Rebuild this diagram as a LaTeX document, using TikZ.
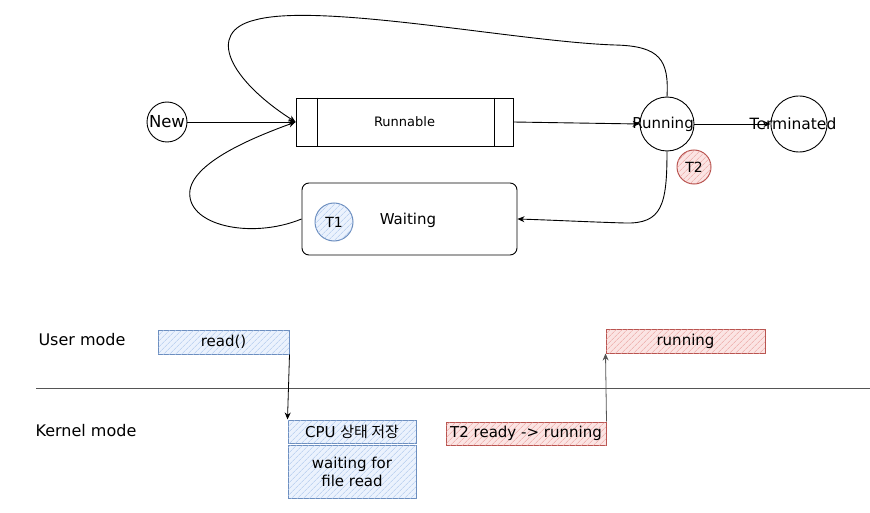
\documentclass[tikz,border=0pt]{standalone}
\usepackage{fontspec}
\setmainfont{DejaVu Sans}
\newfontfamily\krfont{Noto Sans CJK KR}
\usetikzlibrary{arrows.meta,patterns.meta}
\definecolor{bluestroke}{HTML}{6C8EBF}
\definecolor{bluefill}{HTML}{DAE8FC}
\definecolor{bluehatch}{HTML}{A9C4EB}
\definecolor{redstroke}{HTML}{B85450}
\definecolor{redfill}{HTML}{F8CECC}
\definecolor{redhatch}{HTML}{EA9E9B}
\definecolor{sepgray}{HTML}{555555}
\tikzset{
  txt/.style={font=\fontsize{15}{18}\selectfont},
  lbl/.style={font=\fontsize{16}{19}\selectfont},
  stcircle/.style={draw=black, line width=0.9pt, circle, inner sep=0pt},
  stbox/.style={draw=black, line width=0.9pt, inner sep=0pt},
  arr/.style={-{Stealth[length=7pt,width=6pt]}, line width=0.9pt, black},
  bluebox/.style={draw=bluestroke, line width=1pt, fill=bluefill!55,
     postaction={pattern={Lines[angle=45,distance=4pt,line width=0.5pt]}, pattern color=bluehatch},
     inner sep=0pt, txt},
  redbox/.style={draw=redstroke, line width=1pt, fill=redfill!55,
     postaction={pattern={Lines[angle=45,distance=4pt,line width=0.5pt]}, pattern color=redhatch},
     inner sep=0pt, txt},
}
\begin{document}
\begin{tikzpicture}[x=1pt,y=-1pt]
\useasboundingbox (0,0) rectangle (870,513);
% upper state diagram
\node[stcircle, minimum size=40pt] (new) at (167,122) {};
\node[font=\fontsize{16.5}{19}\selectfont] (newt) at (new) {New};
\node[stbox, minimum width=217pt, minimum height=48pt] (runnable) at (404.5,122) {};
\node[font=\fontsize{13}{15}\selectfont] (runnablet) at (runnable) {Runnable};
\draw[line width=0.8pt] ([xshift=22pt]runnable.north west) -- ([xshift=22pt]runnable.south west);
\draw[line width=0.8pt] ([xshift=-19pt]runnable.north east) -- ([xshift=-19pt]runnable.south east);
\node[stcircle, minimum size=54pt] (running) at (667,124) {};
\node[txt] (runningt) at (663,124) {Running};
\node[stcircle, minimum size=56pt] (term) at (799,124) {};
\node[font=\fontsize{15.5}{18}\selectfont] (termt) at (793,124) {Terminated};
\node[draw=black, line width=0.9pt, rounded corners=7pt, minimum width=215pt, minimum height=72pt] (waiting) at (409.5,219) {};
\node[txt] (waitingt) at (408,220) {Waiting};
\node[circle, draw=redstroke, line width=1pt, fill=redfill!55,
  postaction={pattern={Lines[angle=45,distance=4pt,line width=0.5pt]}, pattern color=redhatch},
  minimum size=34pt, inner sep=0pt, font=\fontsize{14}{16}\selectfont] (t2) at (694,167) {T2};
\node[circle, draw=bluestroke, line width=1pt, fill=bluefill!55,
  postaction={pattern={Lines[angle=45,distance=4pt,line width=0.5pt]}, pattern color=bluehatch},
  minimum size=38pt, inner sep=0pt, font=\fontsize{14}{16}\selectfont] (t1) at (334,222) {T1};
% connectors
\draw[arr] (new.east) -- (runnable.west);
\draw[arr] (runnable.east) -- (running.west);
\draw[arr] (running.east) -- (term.west);
\draw[arr] (running.north) .. controls (669,60) and (660,46) .. (615,45)
   .. controls (520,42) and (320,2) .. (255,20)
   .. controls (205,32) and (230,80) .. (runnable.west);
\draw[arr] (running.south) .. controls (667,205) and (662,224) .. (625,223)
   .. controls (590,222) and (550,220) .. (waiting.east);
\draw[arr] (waiting.west) .. controls (250,240) and (185,225) .. (190,190)
   .. controls (195,160) and (260,135) .. (runnable.west);
% lower section
\node[lbl] (user) at (82,340) {User mode};
\node[lbl] (kernel) at (86,431) {Kernel mode};
\coordinate (sepL) at (36,388);
\coordinate (sepR) at (870,388);
\draw[sepgray, line width=1pt] (sepL) -- (sepR);
\node[bluebox, minimum width=131pt, minimum height=24pt] (read) at (223.5,342) {read()};
\node[bluebox, minimum width=128pt, minimum height=23pt] (cpu) at (352,431.5) {CPU {\krfont 상태 저장}};
\node[bluebox, minimum width=128pt, minimum height=53pt, align=center] (wfr) at (352,471.5) {waiting for\\file read};
\node[redbox, minimum width=160pt, minimum height=23pt] (t2r) at (526,433.5) {T2 ready -> running};
\node[redbox, minimum width=159pt, minimum height=24pt] (runbox) at (685.5,341) {running};
\draw[arr, line width=0.8pt] (read.south east) -- (cpu.north west);
\draw[arr, line width=0.8pt, sepgray] (t2r.north east) -- (runbox.south west);
\end{tikzpicture}
\end{document}
